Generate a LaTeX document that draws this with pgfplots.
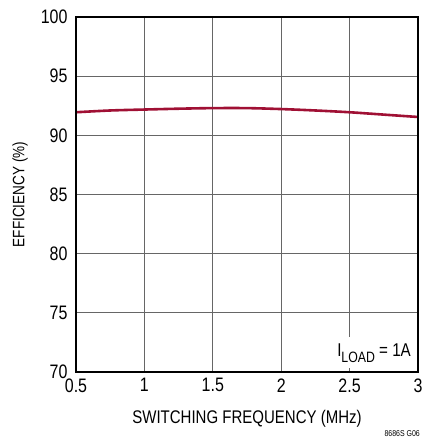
\documentclass[border=0pt]{standalone}
\usepackage{fontspec}
\setmainfont{Liberation Sans}[FakeStretch=0.82]
\usepackage{pgfplots}
\pgfplotsset{compat=1.18}
\begin{document}
\begin{tikzpicture}
\begin{axis}[
  at={(0pt,0pt)}, anchor=south west,
  scale only axis, width=342pt, height=355pt,
  xmin=0.5, xmax=3, ymin=70, ymax=100,
  xtick={0.5,1,...,3}, ytick={70,75,...,100},
  xticklabels={0.5,1,1.5,2,2.5,3},
  grid=major,
  major grid style={draw=black!60, line width=1.1pt},
  axis line style={line width=1.6pt},
  tick style={draw=none},
  /pgf/number format/assume math mode=true,
  tick label style={font=\fontsize{19.5}{19.5}\selectfont},
  xticklabel style={yshift=-3pt},
  yticklabel style={xshift=-5pt},
  xlabel={SWITCHING FREQUENCY (MHz)},
  ylabel={EFFICIENCY (\%)},
  xlabel style={font=\fontsize{18.3}{18.3}\selectfont, at={(axis description cs:0.5,0)}, anchor=base, yshift=-51pt},
  ylabel style={font=\fontsize{16.5}{16.5}\selectfont, at={(axis description cs:0,0.5)}, anchor=center, xshift=0pt, yshift=56pt},
  clip=false,
]
\addplot[color={rgb,255:red,160;green,16;blue,52}, line width=2.6pt, smooth] coordinates {
(0.5,91.95) (0.75,92.1) (1,92.18) (1.25,92.25) (1.5,92.3) (1.75,92.3) (2,92.22) (2.25,92.1) (2.5,91.95) (2.75,91.75) (3,91.55)
};
\fill[white] (axis cs:2.34,70.3) rectangle (axis cs:2.995,72.95);
\node[inner sep=0pt, anchor=base east, font=\fontsize{18.5}{18.5}\selectfont] at (axis cs:2.949,71.27) {I\raisebox{-0.28em}{\fontsize{15}{15}\selectfont LOAD} = 1A};
\end{axis}
\draw[line width=1.6pt] (0pt,0pt) rectangle (342pt,355pt);
\node[anchor=south east, font=\fontsize{8.5}{8.5}\selectfont, inner sep=0pt] at (344pt,-65pt) {8686S G06};
\pgfresetboundingbox
\path[use as bounding box] (-76pt,-66pt) rectangle (349pt,372pt);
\end{tikzpicture}
\end{document}
